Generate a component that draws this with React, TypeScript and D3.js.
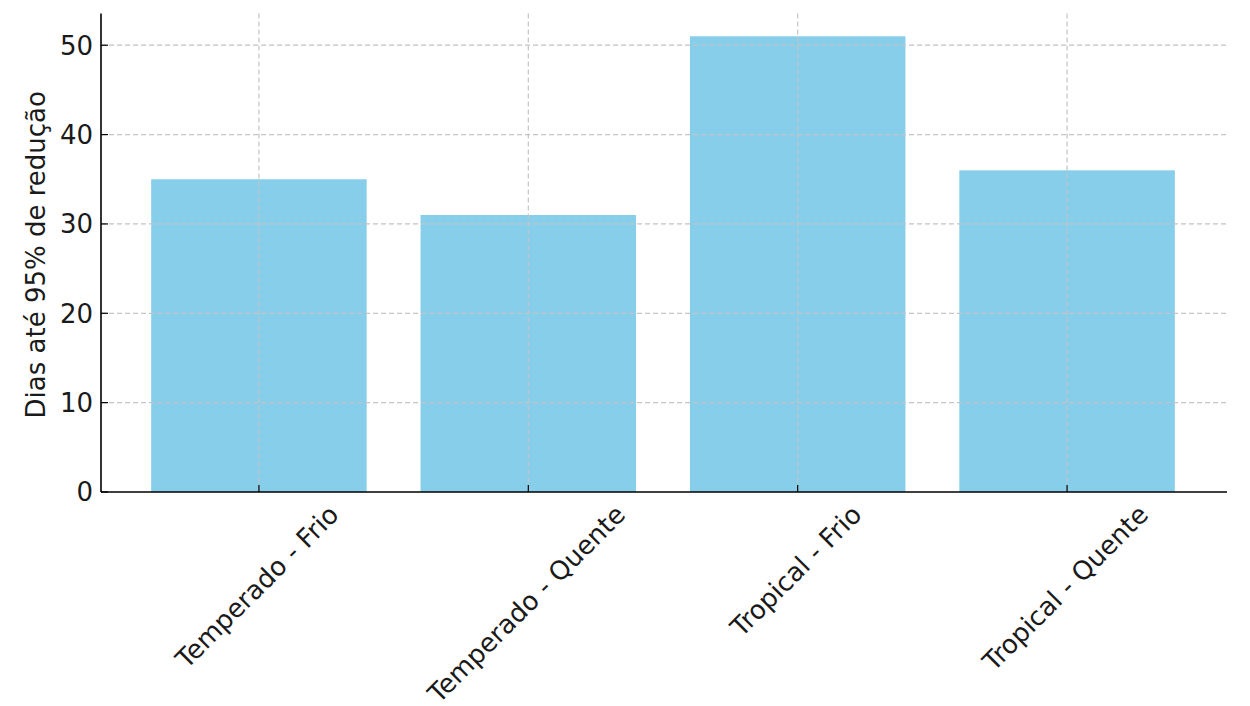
import React, { useMemo } from "react";
import * as d3 from "d3";

const categories = ["Temperado - Frio", "Temperado - Quente", "Tropical - Frio", "Tropical - Quente"];
const values = [35, 31, 51, 36];
const yTicks = [0, 10, 20, 30, 40, 50];
const yLabel = "Dias até 95% de redução";

const W = 1250;
const H = 706;
const M = { left: 101, right: 1227, top: 13.5, bottom: 492 };
const FONT = "DejaVu Sans, Verdana, sans-serif";
const FS = 26;
const TXT = "#1a1a1a";

function measure(text: string): number {
  const c = document.createElement("canvas").getContext("2d");
  if (!c) return text.length * FS * 0.6;
  c.font = `${FS}px ${FONT}`;
  return c.measureText(text).width;
}

export default function App() {
  const ymax = d3.max(values)! * 1.05;
  const y = d3.scaleLinear().domain([0, ymax]).range([M.bottom, M.top]);
  const n = categories.length;
  const span = (n - 1) + 0.8;
  const pad = span * 0.05;
  const xl = d3.scaleLinear().domain([-0.4 - pad, n - 1 + 0.4 + pad]).range([M.left - 1, M.right - 1]);
  const bw = xl(0.8) - xl(0);

  const widths = useMemo(() => categories.map(measure), []);

  return (
    <svg width={W} height={H} style={{ display: "block", position: "absolute", left: 0, top: 0, background: "#fff" }}>
      {values.map((v, i) => (
        <rect key={i} x={xl(i) - bw / 2} y={y(v)} width={bw} height={y(0) - y(v)} fill="#87CEEB" />
      ))}
      {yTicks.filter((t) => t > 0).map((t) => (
        <line key={"gy" + t} x1={M.left} x2={M.right} y1={y(t)} y2={y(t)} stroke="#c4c4c4" strokeWidth={1.2} strokeDasharray="5,3" />
      ))}
      {categories.map((c, i) => (
        <line key={"gx" + i} x1={xl(i)} x2={xl(i)} y1={M.top} y2={M.bottom} stroke="#c4c4c4" strokeWidth={1.2} strokeDasharray="5,3" />
      ))}
      <line x1={M.left} x2={M.left} y1={M.top} y2={M.bottom} stroke="#000" strokeWidth={1.6} />
      <line x1={M.left} x2={M.right} y1={M.bottom} y2={M.bottom} stroke="#000" strokeWidth={1.6} />
      {yTicks.map((t) => (
        <g key={"yt" + t}>
          <line x1={M.left} x2={M.left + 7} y1={y(t)} y2={y(t)} stroke="#000" strokeWidth={1.2} />
          <text x={M.left - 8} y={y(t)} dy="0.36em" textAnchor="end" fontFamily={FONT} fontSize={FS} fill={TXT}>
            {t}
          </text>
        </g>
      ))}
      {categories.map((c, i) => {
        const w = widths[i];
        const h = 30;
        const ext = (w + h) * Math.SQRT1_2;
        const cx = xl(i) - 2;
        const cy = 499 + ext / 2;
        return (
          <g key={"xt" + i}>
            <line x1={xl(i)} x2={xl(i)} y1={M.bottom} y2={M.bottom - 7} stroke="#000" strokeWidth={1.2} />
            <text
              x={0}
              y={0}
              dy="0.36em"
              textAnchor="middle"
              fontFamily={FONT}
              fontSize={FS}
              fill={TXT}
              transform={`translate(${cx},${cy}) rotate(-45)`}
            >
              {c}
            </text>
          </g>
        );
      })}
      <text
        transform={`translate(45,${(M.top + M.bottom) / 2 + 2}) rotate(-90)`}
        textAnchor="middle"
        fontFamily={FONT}
        fontSize={FS}
        fill={TXT}
      >
        {yLabel}
      </text>
    </svg>
  );
}
